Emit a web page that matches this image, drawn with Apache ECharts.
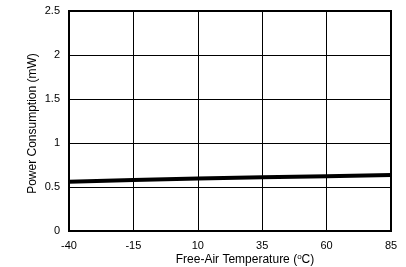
<!DOCTYPE html>
<html><head><meta charset="utf-8">
<script src="https://cdn.jsdelivr.net/npm/echarts@6/dist/echarts.min.js"></script>
<style>html,body{margin:0;padding:0;background:#fff}#c{width:406px;height:267px}</style>
</head><body><div id="c"></div>
<script>
const temps = [-40, -15, 10, 35, 60, 85];
const power = [0.56, 0.58, 0.598, 0.61, 0.623, 0.636];
const xTicks = [-40, -15, 10, 35, 60, 85];
const yTicks = [0, 0.5, 1, 1.5, 2, 2.5];
const font = 'Liberation Sans, Arial, sans-serif';
const chart = echarts.init(document.getElementById('c'), null, {renderer: 'canvas'});
chart.setOption({
  animation: false,
  grid: {left: 69, right: 15, top: 11, bottom: 36, show: true, borderColor: '#000', borderWidth: 2, containLabel: false, outerBoundsMode: 'none'},
  xAxis: {
    type: 'value', min: xTicks[0], max: xTicks[xTicks.length-1], interval: 25,
    axisLine: {show: false}, axisTick: {show: false},
    axisLabel: {color: '#000', fontFamily: font, fontSize: 11, margin: 9},
    splitLine: {lineStyle: {color: '#000', width: 1}},
    name: '{a|Free-Air Temperature (}{s|o}{a|C)}', nameLocation: 'middle', nameGap: 22, nameMoveOverlap: false,
    nameTextStyle: {padding: [0, 0, 0, 30], rich: {a: {fontFamily: font, fontSize: 12, color: '#000'}, s: {fontFamily: font, fontSize: 8, color: '#000', verticalAlign: 'top', padding: [0,0,5,0]}}}
  },
  yAxis: {
    type: 'value', min: 0, max: 2.5, interval: 0.5,
    axisLine: {show: false}, axisTick: {show: false},
    axisLabel: {color: '#000', fontFamily: font, fontSize: 11, margin: 9},
    splitLine: {lineStyle: {color: '#000', width: 1}},
    name: 'Power Consumption (mW)', nameLocation: 'middle', nameGap: 30, nameMoveOverlap: false,
    nameTextStyle: {fontFamily: font, fontSize: 12, color: '#000', padding: [0, 5, 0, 0]}
  },
  series: [{
    type: 'line', data: temps.map((t,i)=>[t, power[i]]), showSymbol: false,
    lineStyle: {color: '#000', width: 4}
  }]
});
</script></body></html>
